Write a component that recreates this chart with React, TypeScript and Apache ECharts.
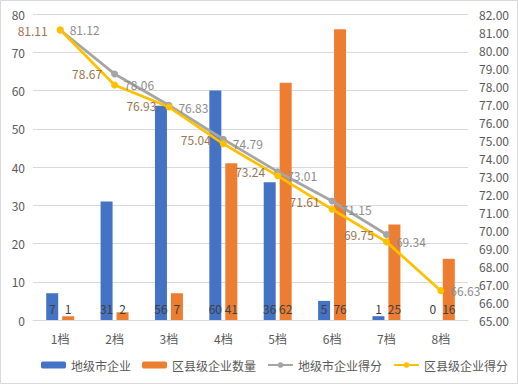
import React, { useEffect, useRef } from "react";
import * as echarts from "echarts";

const categories = ["1档", "2档", "3档", "4档", "5档", "6档", "7档", "8档"];
const cityCount = [7, 31, 56, 60, 36, 5, 1, 0];
const countyCount = [1, 2, 7, 41, 62, 76, 25, 16];
const cityScore = [81.11, 78.67, 76.93, 75.04, 73.24, 71.61, 69.75, null];
const countyScore = [81.12, 78.06, 76.83, 74.79, 73.01, 71.15, 69.34, 66.63];
const seriesNames = ["地级市企业", "区县级企业数量", "地级市企业得分", "区县级企业得分"];

const FONT = "'Noto Sans CJK SC', 'Noto Sans', sans-serif";

export default function App() {
  const ref = useRef<HTMLDivElement>(null);
  useEffect(() => {
    if (!ref.current) return;
    const chart = echarts.init(ref.current, undefined, { renderer: "svg" });
    const barLabel = {
      show: true,
      position: "insideBottom" as const,
      distance: 6,
      color: "#404040",
      fontSize: 12,
      fontFamily: FONT,
    };
    chart.setOption({
      animation: false,
      backgroundColor: "#ffffff",
      textStyle: { fontFamily: FONT },
      graphic: [
        {
          type: "rect",
          shape: { x: 0.5, y: 0.5, width: 517, height: 383 },
          style: { fill: "none", stroke: "#D9D9D9", lineWidth: 1 },
          silent: true,
          z: -10,
        },
      ],
      grid: { left: 33, right: 50, top: 14, bottom: 64, containLabel: false },
      legend: {
        bottom: 8,
        left: 36,
        itemWidth: 25,
        itemHeight: 7,
        itemGap: 11,
        textStyle: { color: "#595959", fontSize: 12, fontFamily: FONT },
        data: seriesNames,
      },
      xAxis: {
        type: "category",
        data: categories,
        axisLine: { lineStyle: { color: "#D9D9D9" } },
        axisTick: { show: false },
        axisLabel: { color: "#595959", fontSize: 12, margin: 12, fontFamily: FONT },
      },
      yAxis: [
        {
          type: "value",
          min: 0,
          max: 80,
          interval: 10,
          axisLine: { show: false },
          axisTick: { show: false },
          axisLabel: { color: "#595959", fontSize: 12, margin: 8, fontFamily: FONT },
          splitLine: { lineStyle: { color: "#D9D9D9" } },
        },
        {
          type: "value",
          min: 65,
          max: 82,
          interval: 1,
          axisLine: { show: false },
          axisTick: { show: false },
          axisLabel: {
            color: "#595959",
            fontSize: 12,
            margin: 11,
            fontFamily: FONT,
            formatter: (v: number) => v.toFixed(2),
          },
          splitLine: { show: false },
        },
      ],
      series: [
        {
          name: seriesNames[0],
          type: "bar",
          data: cityCount,
          barWidth: 12,
          barGap: "33%",
          itemStyle: { color: "#4472C4" },
          label: barLabel,
        },
        {
          name: seriesNames[1],
          type: "bar",
          data: countyCount,
          barWidth: 12,
          itemStyle: { color: "#ED7D31" },
          label: barLabel,
        },
        {
          name: seriesNames[2],
          type: "line",
          yAxisIndex: 1,
          data: cityScore,
          symbol: "circle",
          symbolSize: 7,
          lineStyle: { color: "#A5A5A5", width: 2.75 },
          itemStyle: { color: "#A5A5A5" },
          label: {
            show: true,
            position: "left",
            distance: 9,
            color: "#9C7450",
            fontSize: 12,
            fontFamily: FONT,
            formatter: (p: any) => (p.value == null ? "" : Number(p.value).toFixed(2)),
          },
        },
        {
          name: seriesNames[3],
          type: "line",
          yAxisIndex: 1,
          data: countyScore,
          symbol: "circle",
          symbolSize: 7,
          lineStyle: { color: "#FFC000", width: 2.75 },
          itemStyle: { color: "#FFC000" },
          label: {
            show: true,
            position: "right",
            distance: 6,
            color: "#8C8C8C",
            fontSize: 12,
            fontFamily: FONT,
            formatter: (p: any) => Number(p.value).toFixed(2),
          },
        },
      ],
    });
    return () => chart.dispose();
  }, []);
  return (
    <div
      ref={ref}
      style={{ position: "fixed", left: 0, top: 0, width: 518, height: 384 }}
    />
  );
}
